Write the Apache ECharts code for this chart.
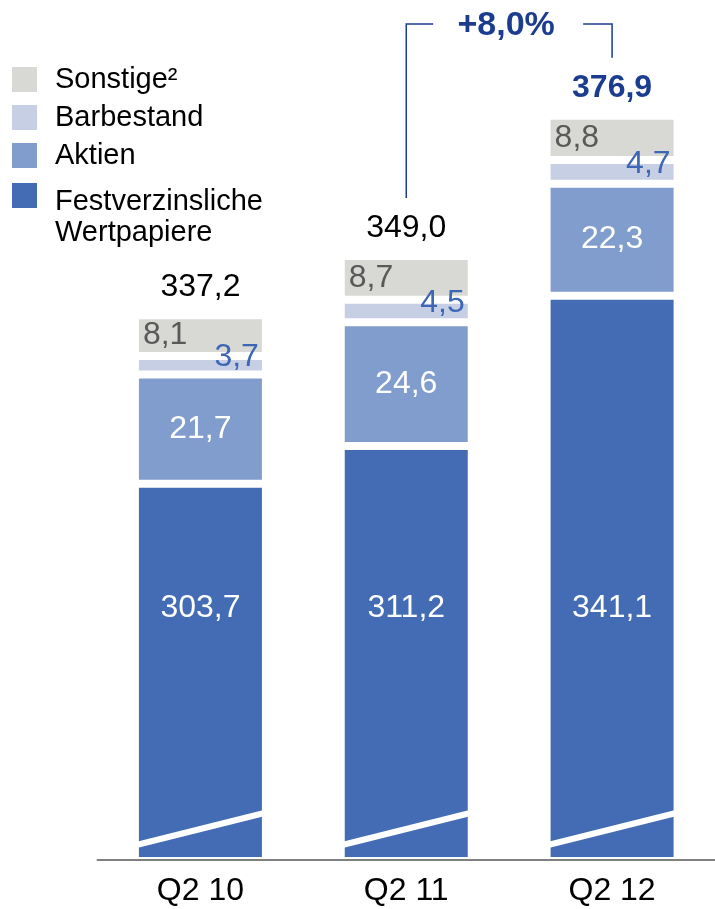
<!DOCTYPE html>
<html>
<head>
<meta charset="utf-8">
<script src="https://cdn.jsdelivr.net/npm/echarts@6/dist/echarts.min.js"></script>
<style>html,body{margin:0;padding:0;background:#fff}#main{width:715px;height:909px}</style>
</head>
<body>
<div id="main"></div>
<script>
// Werte aus der Grafik (Mrd EUR)
var quarters = ['Q2 10', 'Q2 11', 'Q2 12'];
var festverzinsliche = [303.7, 311.2, 341.1];
var aktien = [21.7, 24.6, 22.3];
var barbestand = [3.7, 4.5, 4.7];
var sonstige = [8.1, 8.7, 8.8];
var gesamt = [337.2, 349.0, 376.9];

var font = 'Liberation Sans';
var navy = '#1b3c8f';
var yMin = 229, yMax = 389;   // gebrochene Achse

function fmt(v) { return v.toFixed(1).replace('.', ','); }
function barStyle(c) { return { color: c, borderColor: '#fff', borderWidth: 4 }; }

var chart = echarts.init(document.getElementById('main'));

var legendBase = {
    orient: 'vertical', left: 12, padding: 0,
    itemWidth: 25, itemHeight: 25, itemGap: 6, icon: 'rect',
    selectedMode: false,
    itemStyle: { borderWidth: 0 }
};

var option = {
    animation: false,
    grid: { left: 97.5, right: -3.5, top: 55, bottom: 50 },
    xAxis: {
        type: 'category', data: quarters, z: 3, offset: 1,
        axisTick: { show: false },
        axisLine: { lineStyle: { color: '#808080', width: 2 } },
        axisLabel: { fontFamily: font, fontSize: 32, color: '#000', margin: 15 }
    },
    yAxis: { type: 'value', min: yMin, max: yMax, show: false },
    legend: [
        Object.assign({}, legendBase, {
            top: 63.5,
            data: ['Sonstige²', 'Barbestand', 'Aktien'],
            textStyle: { fontFamily: font, fontSize: 29, color: '#000', lineHeight: 32, padding: [0, 0, 0, 13] }
        }),
        Object.assign({}, legendBase, {
            top: 159.5,
            data: ['Festverzinsliche\nWertpapiere'],
            formatter: function (name) {
                return '{e| }\n' + name.split('\n').map(function (s) { return '{t|' + s + '}'; }).join('\n');
            },
            textStyle: {
                fontFamily: font, fontSize: 29, color: '#000', padding: [0, 0, 0, 13],
                rich: {
                    e: { fontSize: 10, lineHeight: 44 },
                    t: { fontFamily: font, fontSize: 29, color: '#000', lineHeight: 31 }
                }
            }
        })
    ],
    series: [
        {
            name: 'Festverzinsliche\nWertpapiere', type: 'bar', stack: 'a', barWidth: 131,
            data: festverzinsliche, itemStyle: barStyle('#436cb4'),
            label: { show: true, position: 'insideBottom', distance: 237, color: '#fff',
                     fontFamily: font, fontSize: 32, formatter: function (p) { return fmt(p.value); } }
        },
        {
            name: 'Aktien', type: 'bar', stack: 'a', barWidth: 131,
            data: aktien, itemStyle: barStyle('#809dcd'),
            label: { show: true, position: 'inside', color: '#fff',
                     fontFamily: font, fontSize: 32, formatter: function (p) { return fmt(p.value); } }
        },
        {
            name: 'Barbestand', type: 'bar', stack: 'a', barWidth: 131,
            data: barbestand, itemStyle: barStyle('#c6cfe4'),
            label: { show: true, position: 'insideRight', distance: 7, offset: [0, -8], color: '#3d67b5',
                     fontFamily: font, fontSize: 32, formatter: function (p) { return fmt(p.value); } }
        },
        {
            name: 'Sonstige²', type: 'bar', stack: 'a', barWidth: 131,
            data: sonstige, itemStyle: barStyle('#d8d8d5'),
            label: { show: true, position: 'insideLeft', distance: 8, color: '#595959',
                     fontFamily: font, fontSize: 32, formatter: function (p) { return fmt(p.value); } }
        },
        {
            name: 'Gesamt', type: 'bar', stack: 'a', barWidth: 131,
            data: gesamt.map(function (v, i) {
                var d = { value: 0 };
                if (i === 2) d.label = { color: navy, fontWeight: 'bold' };
                return d;
            }),
            itemStyle: { color: 'rgba(0,0,0,0)', borderWidth: 0 },
            label: { show: true, position: 'top', distance: 12, color: '#000',
                     fontFamily: font, fontSize: 32,
                     formatter: function (p) { return fmt(gesamt[p.dataIndex]); } }
        },
        {
            // Achsenbruch-Markierung
            type: 'custom', z: 3, silent: true,
            data: quarters.map(function (q, i) { return [i, yMin]; }),
            encode: { x: 0, y: 1 },
            renderItem: function (params, api) {
                var base = api.coord([api.value(0), api.value(1)]);
                return {
                    type: 'line',
                    shape: { x1: base[0] - 64, y1: base[1] - 14, x2: base[0] + 64, y2: base[1] - 46 },
                    style: { stroke: '#fff', lineWidth: 6 }
                };
            }
        }
    ]
};
chart.setOption(option);

// Klammer mit Wachstumsrate Q2 11 -> Q2 12
var xa = chart.convertToPixel({ xAxisIndex: 0 }, quarters[1]);
var xb = chart.convertToPixel({ xAxisIndex: 0 }, quarters[2]);
var ya = chart.convertToPixel({ yAxisIndex: 0 }, gesamt[1]);
var yb = chart.convertToPixel({ yAxisIndex: 0 }, gesamt[2]);
var mid = (xa + xb) / 2, topY = 24;
var growth = (gesamt[2] / gesamt[1] - 1) * 100;

chart.setOption({
    graphic: [
        { type: 'polyline', silent: true,
          shape: { points: [[xa, ya - 58], [xa, topY], [mid - 76, topY]] },
          style: { stroke: navy, lineWidth: 1.5, fill: 'none' } },
        { type: 'polyline', silent: true,
          shape: { points: [[mid + 74, topY], [xb, topY], [xb, yb - 58]] },
          style: { stroke: navy, lineWidth: 1.5, fill: 'none' } },
        { type: 'text', x: mid - 3, y: 26, silent: true,
          style: { text: '+' + fmt(growth) + '%', font: 'bold 34px "Liberation Sans"', fill: navy,
                   align: 'center', verticalAlign: 'middle' } }
    ]
});
</script>
</body>
</html>
